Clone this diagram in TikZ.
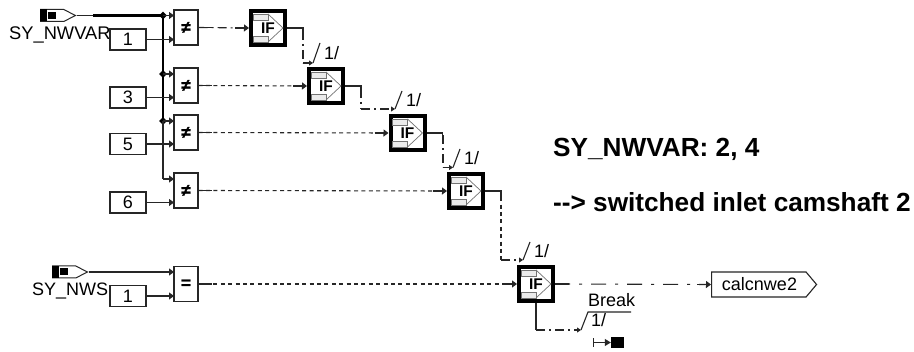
\documentclass[tikz,border=0pt]{standalone}
\usepackage{fontspec}
\setmainfont{Liberation Sans}
\usetikzlibrary{arrows.meta,calc,shapes.geometric,shapes.symbols}
\definecolor{ln}{gray}{0.15}
\tikzset{
  x=1pt,y=-1pt,
  wire/.style={draw=ln,line width=1.1pt},
  thickwire/.style={draw=black,line width=2.4pt},
  tip/.style={-{Triangle[length=5pt,width=7pt]}},
  smalltip/.style={-{Triangle[length=4pt,width=5pt]}},
  dotline/.style={wire,dash pattern=on 4pt off 3.4pt},
  dashdotline/.style={wire,dash pattern=on 9pt off 4pt on 2pt off 4pt},
  longdash/.style={wire,dash pattern=on 15pt off 9pt on 3pt off 9pt},
  constbox/.style={draw=ln,line width=1.2pt,fill=white,minimum width=36pt,minimum height=21pt,inner sep=0pt,font=\fontsize{18}{18}\selectfont},
  cmpbox/.style={draw=ln,line width=1.2pt,fill=white,minimum width=24pt,minimum height=35pt,inner sep=0pt,font=\fontsize{17}{17}\selectfont\bfseries\addfontfeature{FakeBold=1.5}},
  ifbox/.style={draw=black,line width=4pt,fill=white,minimum width=34pt,minimum height=34pt,inner sep=0pt,font=\fontsize{15.5}{15}\selectfont\bfseries},
  ifpart/.style={draw=black!55,line width=0.6pt,fill=black!8},
  ifarrow/.style={draw=black!55,line width=0.7pt},
  jn/.style={diamond,fill=black,minimum width=8pt,minimum height=8pt,inner sep=0pt},
  lab/.style={anchor=base west,inner sep=0pt,font=\fontsize{18}{18}\selectfont},
  note/.style={anchor=base west,inner sep=0pt,font=\fontsize{26.2}{26}\selectfont\bfseries},
  inpad/.style={signal,signal to=east,signal from=nowhere,draw=ln,line width=1pt,fill=white,minimum width=35pt,minimum height=12pt,inner sep=0pt,anchor=west,signal pointer angle=54},
}
\newcommand{\blockinner}[1]{%
  \begin{scope}[shift={(#1.center)}]
    \draw[ifarrow] (0,-14) -- (15,0) -- (0,14);
    \draw[ifpart] (-15,-14) rectangle (0,-8);
    \draw[ifpart] (-15,8) rectangle (0,14);
  \end{scope}}
\newcommand{\padinner}[1]{%
  \begin{scope}[shift={(#1.west)}]
    \fill[black] (0,-6) rectangle (7,6);
    \fill[black] (8,-3.5) rectangle (16,3.5);
  \end{scope}}
\begin{document}
\begin{tikzpicture}
\useasboundingbox (0,0) rectangle (914,352);
\fill[white] (0,0) rectangle (914,352);

% inputs
\node[inpad] (in1) at (40,15.5) {};
\node[inpad] (in2) at (52,272) {};
\padinner{in1}\padinner{in2}
\node[lab,font=\fontsize{18.3}{18}\selectfont] (in1l) at (9,40) {SY\_NWVAR};
\node[lab] (in2l) at (32,296) {SY\_NWS};

% compare blocks
\node[cmpbox] (n1) at (186,27.5) {≠};
\node[cmpbox] (n2) at (186,85.5) {≠};
\node[cmpbox] (n3) at (186,132.5) {≠};
\node[cmpbox] (n4) at (186,190.5) {≠};
\node[cmpbox] (n5) at (186,284) {=};

% constants
\node[constbox] (c1) at (128,39.5) {1};
\node[constbox] (c2) at (128,97.5) {3};
\node[constbox] (c3) at (128,144) {5};
\node[constbox] (c4) at (128,202.5) {6};
\node[constbox] (c5) at (128,296) {1};

% IF blocks
\node[ifbox] (if1) at (268,28) {};
\node[ifbox] (if2) at (326,86) {};
\node[ifbox] (if3) at (407.5,133) {};
\node[ifbox] (if4) at (466,191) {};
\node[ifbox] (if5) at (536,284) {};
\blockinner{if1}\blockinner{if2}\blockinner{if3}\blockinner{if4}\blockinner{if5}
\node[ifbox,draw=none,fill=none] (if1t) at (if1.center) {IF};
\node[ifbox,draw=none,fill=none] (if2t) at (if2.center) {IF};
\node[ifbox,draw=none,fill=none] (if3t) at (if3.center) {IF};
\node[ifbox,draw=none,fill=none] (if4t) at (if4.center) {IF};
\node[ifbox,draw=none,fill=none] (if5t) at (if5.center) {IF};

% junctions and ports
\node[jn] (j1) at (163,15.5) {};
\node[jn] (j2) at (163,74) {};
\node[jn] (j3) at (163,121) {};
\coordinate (thick1) at (93,15.5);
\coordinate (bend4) at (163,179);
\coordinate (a1) at (174,15.5);
\coordinate (b1) at (174,39.5);
\coordinate (a2) at (174,74);
\coordinate (b2) at (174,97.5);
\coordinate (a3) at (174,121);
\coordinate (b3) at (174,144);
\coordinate (a4) at (174,179);
\coordinate (b4) at (174,202.5);
\coordinate (a5) at (174,272);
\coordinate (b5) at (174,296);

\draw[wire] (in1.east) -- (thick1);
\draw[thickwire] (thick1) -- (j1.center);
\draw[thickwire] (j1.center) -- (j2.center);
\draw[thickwire] (j2.center) -- (j3.center);
\draw[wire] (j3.center) -- (bend4);
\draw[wire,tip] (bend4) -- (a4);
\draw[wire,tip] (j1.center) -- (a1);
\draw[wire,tip] (j2.center) -- (a2);
\draw[wire,tip] (j3.center) -- (a3);
\draw[wire,tip] (in2.east) -- (a5);
\draw[wire,tip] (c1.east) -- (b1);
\draw[wire,tip] (c2.east) -- (b2);
\draw[wire,tip] (c3.east) -- (b3);
\draw[wire,tip] (c4.east) -- (b4);
\draw[wire,tip] (c5.east) -- (b5);

% compare to IF
\draw[dashdotline,tip] (n1.east) -- (if1.west);
\draw[dotline,tip] (n2.east) -- (if2.west);
\draw[dotline,tip] (n3.east) -- (if3.west);
\draw[dotline,tip] (n4.east) -- (if4.west);
\draw[dotline,tip] (n5.east) -- (if5.west);
\foreach \a/\b in {n1/if1,n2/if2,n3/if3,n4/if4,n5/if5}{
  \draw[wire] (\a.east) -- ++(13,0);
  \draw[wire] ($(\b.west)+(-14,0)$) -- ($(\b.west)+(-4,0)$);
}

% enable flags
\coordinate (k1) at (303,63);   \coordinate (f1) at (313,63);   \coordinate (s1) at (320,43);
\coordinate (k2) at (361,109);  \coordinate (f2) at (395,109);  \coordinate (s2) at (402,91);
\coordinate (k3) at (443,167.5);\coordinate (f3) at (453,167.5);\coordinate (s3) at (460,149);
\coordinate (k4) at (501,260);  \coordinate (f4) at (523,260);  \coordinate (s4) at (530,242);
\coordinate (k5) at (536,330);  \coordinate (f5) at (581,330);  \coordinate (s5) at (588,312);
\coordinate (s5e) at (631,312);
\draw[dashdotline] (if1.east) -| (k1);
\draw[wire,smalltip] (k1) -- (f1);
\draw[dashdotline] (if2.east) -| (k2);
\draw[dashdotline,smalltip] (k2) -- (f2);
\draw[dashdotline] (if3.east) -| (k3);
\draw[wire,smalltip] (k3) -- (f3);
\draw[dotline] (if4.east) -| (k4);
\draw[dashdotline,smalltip] (k4) -- (f4);
\draw[wire] (if1.east) -| ($(if1.east)+(16,9)$);
\draw[wire] (if2.east) -| ($(if2.east)+(16,8)$);
\draw[wire] (if3.east) -| ($(if3.east)+(16,8)$);
\draw[wire] (if4.east) -| ($(if4.east)+(16,8)$);
\draw[wire] (if5.south) -- ($(if5.south)+(0,25)$);
\draw[dashdotline,smalltip] (k5) -- (f5);
\draw[wire] ($(if5.south)+(0,24)$) -- (k5);
\draw[wire] (f1) -- (s1);
\draw[wire] (f2) -- (s2);
\draw[wire] (f3) -- (s3);
\draw[wire] (f4) -- (s4);
\draw[wire] (f5) -- (s5) -- (s5e);
\node[lab] (t1) at (324,60) {1/};
\node[lab] (t2) at (406,107) {1/};
\node[lab] (t3) at (464,165) {1/};
\node[lab] (t4) at (534,258) {1/};
\node[lab] (t5) at (591,327) {1/};
\node[lab] (brk) at (588,307) {Break};

% break terminal
\node[fill=black,minimum width=13pt,minimum height=11pt,inner sep=0pt] (stop) at (617.5,342.5) {};
\coordinate (stopl) at (593,342.5);
\draw[wire,{Bar[width=9pt,length=0pt]}-{Triangle[length=6pt,width=7pt]}] (stopl) -- (stop.west);

% output
\node[signal,signal to=east,signal from=nowhere,draw=ln,line width=1.1pt,fill=white,minimum width=105pt,minimum height=25pt,inner sep=0pt,anchor=west,signal pointer angle=100] (out) at (711,284.5) {};
\node[lab,anchor=center] (outl) at (759.5,284.5) {calcnwe2};
\draw[longdash,tip] (if5.east) -- (out.west);
\draw[wire] (if5.east) -- ++(14,0);
\draw[wire] ($(out.west)+(-14,0)$) -- ($(out.west)+(-4,0)$);

% notes
\node[note] (note1) at (553,157) {SY\_NWVAR: 2, 4};
\node[note] (note2) at (553,212) {-{}-{}> switched inlet camshaft 2};
\end{tikzpicture}
\end{document}
